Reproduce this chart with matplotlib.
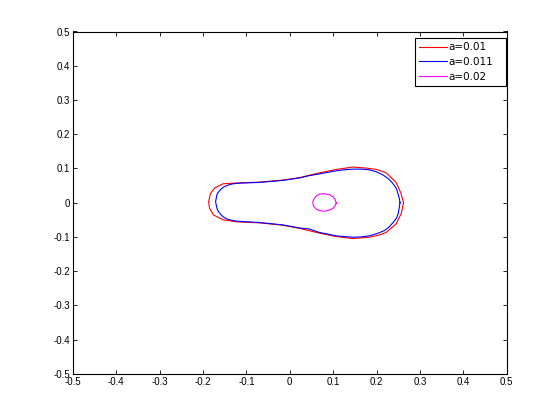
import numpy as np
import matplotlib
matplotlib.use('Agg')
import matplotlib.pyplot as plt

plt.rcParams['font.family'] = ['Liberation Sans', 'DejaVu Sans']

# Контур при a=0.01 (красный)
x_a1 = [0.262, 0.256, 0.245, 0.222, 0.200, 0.176, 0.145, 0.107, 0.068, 0.022, -0.016,
        -0.070, -0.131, -0.154, -0.173, -0.183, -0.187, -0.185, -0.176, -0.154, -0.123,
        -0.070, -0.016, 0.022, 0.068, 0.107, 0.145, 0.183, 0.205, 0.222, 0.245, 0.257]
y_a1 = [0.000, 0.028, 0.059, 0.087, 0.097, 0.101, 0.104, 0.097, 0.087, 0.073, 0.066,
        0.060, 0.057, 0.055, 0.043, 0.026, 0.003, -0.016, -0.036, -0.050, -0.056,
        -0.059, -0.066, -0.075, -0.089, -0.099, -0.105, -0.101, -0.095, -0.087, -0.062, -0.031]

# Контур при a=0.011 (синий)
x_a2 = [0.254, 0.252, 0.246, 0.237, 0.227, 0.214, 0.200, 0.183, 0.165, 0.145, 0.125,
        0.107, 0.068, 0.045, 0.022, -0.016, -0.070, -0.116, -0.132, -0.143, -0.152,
        -0.158, -0.164, -0.168, -0.171, -0.168, -0.165, -0.160, -0.154, -0.146, -0.136,
        -0.123, -0.070, -0.016, 0.022, 0.045, 0.068, 0.107, 0.125, 0.145, 0.165, 0.183,
        0.202, 0.218, 0.229, 0.238, 0.246, 0.250]
y_a2 = [0.000, 0.014, 0.040, 0.057, 0.070, 0.0815, 0.090, 0.096, 0.098, 0.098, 0.096,
        0.093, 0.084, 0.079, 0.072, 0.065, 0.059, 0.057, 0.055, 0.051, 0.046,
        0.040, 0.032, 0.023, 0.003, -0.016, -0.025, -0.033, -0.041, -0.047, -0.051,
        -0.054, -0.058, -0.065, -0.074, -0.077, -0.087, -0.097, -0.099, -0.101, -0.100, -0.097,
        -0.090, -0.0815, -0.071, -0.058, -0.045, -0.031]

# Контур при a=0.02 (пурпурный)
x_a3 = [0.107, 0.104, 0.099, 0.092, 0.084, 0.076, 0.068, 0.061, 0.057, 0.054, 0.053,
        0.054, 0.057, 0.062, 0.068, 0.076, 0.084, 0.092, 0.099, 0.104]
y_a3 = [-0.001, 0.010, 0.018, 0.023, 0.025, 0.026, 0.025, 0.020, 0.013, 0.007, 0.000,
        -0.008, -0.014, -0.020, -0.023, -0.025, -0.024, -0.021, -0.017, -0.010]

labels = ['a=0.01', 'a=0.011', 'a=0.02']
ticks = [-0.5, -0.4, -0.3, -0.2, -0.1, 0, 0.1, 0.2, 0.3, 0.4, 0.5]
tick_labels = ['-0.5', '-0.4', '-0.3', '-0.2', '-0.1', '0', '0.1', '0.2', '0.3', '0.4', '0.5']


def closed(a):
    return list(a) + [a[0]]


fig = plt.figure(figsize=(5.6, 4.2), dpi=100)
ax = fig.add_axes([0.13, 0.11, 0.775, 0.815])
ax.plot(closed(x_a1), closed(y_a1), color='#ff0000', linewidth=0.8, label=labels[0])
ax.plot(closed(x_a2), closed(y_a2), color='#0000ff', linewidth=0.8, label=labels[1])
ax.plot(closed(x_a3), closed(y_a3), color='#ff00ff', linewidth=0.8, label=labels[2])

ax.set_xlim(-0.5, 0.5)
ax.set_ylim(-0.5, 0.5)
ax.set_xticks(ticks)
ax.set_xticklabels(tick_labels)
ax.set_yticks(ticks)
ax.set_yticklabels(tick_labels)
ax.tick_params(direction='in', top=True, right=True, length=3, width=0.6,
               labelsize=7, pad=2)
for s in ax.spines.values():
    s.set_linewidth(0.8)

# легенда в тех же границах, что и в исходнике
leg = ax.legend(loc='upper left',
                bbox_to_anchor=(415 / 560, 1 - 38 / 420, 91 / 560, 0),
                bbox_transform=fig.transFigure, mode='expand',
                prop={'family': 'DejaVu Sans', 'size': 7.5}, frameon=True,
                fancybox=False, framealpha=1, edgecolor='black',
                handlelength=2.7, handletextpad=0.1, labelspacing=0.45,
                borderpad=0.4, borderaxespad=0)
leg.get_frame().set_linewidth(0.8)

fig.savefig('out.png', dpi=100)
